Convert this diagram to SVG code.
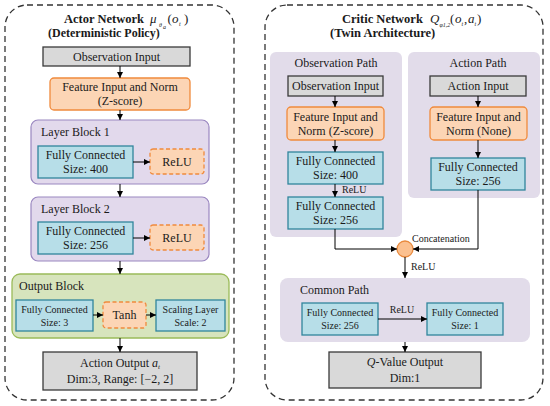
<svg xmlns="http://www.w3.org/2000/svg" width="550" height="406" viewBox="0 0 550 406">
<defs>
<marker id="ah" viewBox="0 0 10 10" refX="10" refY="5" markerWidth="6" markerHeight="6" markerUnits="userSpaceOnUse" orient="auto">
<path d="M0,0 L10,5 L0,10 z" fill="#000"/>
</marker>
</defs>
<style>
text{font-family:"Liberation Serif","Times New Roman",serif;font-size:12px;fill:#1a1a1a}
.c{text-anchor:middle}
.t{font-weight:bold;font-size:12.5px}
.t2{font-weight:bold;font-size:12px}
.s{font-size:10px}
.m{font-style:italic;font-size:13px}
.mn{font-size:13px}
.sub{font-style:italic;font-size:6px}
.cont{fill:#fff;stroke:#333;stroke-width:1.3;stroke-dasharray:6 4}
.gray{fill:#d9d9d9;stroke:#3a3a3a;stroke-width:1.3}
.org{fill:#fcd5b5;stroke:#f08a3c;stroke-width:1.3}
.orgd{fill:#fcd5b5;stroke:#f08a3c;stroke-width:1.3;stroke-dasharray:4 2.5}
.pur{fill:#e2d9ec;stroke:#9a87c0;stroke-width:1.2}
.pan{fill:#e2dcea;stroke:none}
.blu{fill:#b7dee8;stroke:#31859c;stroke-width:1.3}
.grn{fill:#d7e4bd;stroke:#9bbb59;stroke-width:1.3}
.ln{fill:none;stroke:#000;stroke-width:1;marker-end:url(#ah)}
</style>

<g id="actor-container">
<rect class="cont" x="5" y="5" width="229" height="395" rx="22"/>
<text class="t" x="64" y="23">Actor Network</text>
<text class="m" x="150" y="23">μ</text>
<text class="sub" x="159" y="27">θ</text>
<text class="sub" x="163" y="28.5" font-size="4.5">a</text>
<text class="mn" x="167.5" y="23">(</text>
<text class="m" x="172" y="23">o</text>
<text class="sub" x="179" y="26">t</text>
<text class="mn" x="184" y="23">)</text>
<text class="t2" x="48" y="37">(Deterministic Policy)</text>
</g>

<g id="actor-obs-input">
<rect class="gray" x="43" y="47" width="147" height="19"/>
<text class="c" x="116.5" y="60.5">Observation Input</text>
</g>
<g id="actor-feature">
<rect class="org" x="50" y="78" width="140" height="32" rx="4"/>
<text class="c" x="120" y="91">Feature Input and Norm</text>
<text class="c" x="120" y="105">(Z-score)</text>
</g>
<g id="layer-block-1">
<rect class="pur" x="31" y="120" width="178" height="64" rx="7"/>
<text x="41" y="136">Layer Block 1</text>
</g>
<g id="lb1-fc">
<rect class="blu" x="38" y="146" width="95" height="32"/>
<text class="c" x="85.5" y="159">Fully Connected</text>
<text class="c" x="85.5" y="173">Size: 400</text>
</g>
<g id="lb1-relu">
<rect class="orgd" x="150" y="149" width="54" height="25" rx="3"/>
<text class="c" x="177" y="166">ReLU</text>
</g>
<g id="layer-block-2">
<rect class="pur" x="31" y="197" width="178" height="64" rx="7"/>
<text x="41" y="213">Layer Block 2</text>
</g>
<g id="lb2-fc">
<rect class="blu" x="38" y="222" width="95" height="32"/>
<text class="c" x="85.5" y="235">Fully Connected</text>
<text class="c" x="85.5" y="249">Size: 256</text>
</g>
<g id="lb2-relu">
<rect class="orgd" x="150" y="225" width="54" height="25" rx="3"/>
<text class="c" x="177" y="242">ReLU</text>
</g>
<g id="output-block">
<rect class="grn" x="12" y="274" width="217" height="64" rx="8"/>
<text x="19" y="290">Output Block</text>
</g>
<g id="ob-fc">
<rect class="blu" x="16" y="300" width="77" height="31"/>
<text class="c s" x="54.5" y="313">Fully Connected</text>
<text class="c s" x="54.5" y="326">Size: 3</text>
</g>
<g id="ob-tanh">
<rect class="orgd" x="103" y="302" width="43" height="26" rx="3"/>
<text class="c" x="124.5" y="319">Tanh</text>
</g>
<g id="ob-scale">
<rect class="blu" x="156" y="300" width="69" height="31"/>
<text class="c s" x="190.5" y="313">Scaling Layer</text>
<text class="c s" x="190.5" y="326">Scale: 2</text>
</g>
<g id="action-output">
<rect class="gray" x="43" y="352" width="154" height="38"/>
<text class="c" x="120" y="367">Action Output <tspan font-style="italic">a</tspan><tspan font-style="italic" font-size="7" dy="2">t</tspan></text>
<text class="c" x="120" y="383">Dim:3, Range: [−2, 2]</text>
</g>

<g id="critic-container">
<rect class="cont" x="265" y="5" width="278" height="395" rx="22"/>
<text class="t" x="342" y="23">Critic Network</text>
<text class="m" x="430" y="23">Q</text>
<text class="sub" x="439.5" y="27" font-size="5">φ1,2</text>
<text class="mn" x="450" y="23">(</text>
<text class="m" x="455" y="23">o</text>
<text class="sub" x="461.5" y="26">t</text>
<text class="mn" x="464" y="23">,</text>
<text class="m" x="468" y="23">a</text>
<text class="sub" x="474.5" y="26">t</text>
<text class="mn" x="477" y="23">)</text>
<text class="t" x="330" y="37">(Twin Architecture)</text>
</g>
<g id="observation-path">
<rect class="pan" x="270" y="52" width="132" height="185" rx="6"/>
<text class="c" x="336" y="67">Observation Path</text>
</g>
<g id="action-path">
<rect class="pan" x="408" y="52" width="132" height="146" rx="6"/>
<text class="c" x="478" y="67">Action Path</text>
</g>
<g id="critic-obs-input">
<rect class="gray" x="288" y="76" width="95" height="20"/>
<text class="c" x="335.5" y="90">Observation Input</text>
</g>
<g id="critic-obs-feature">
<rect class="org" x="287" y="107" width="97" height="33" rx="4"/>
<text class="c" x="335.5" y="121">Feature Input and</text>
<text class="c" x="335.5" y="135">Norm (Z-score)</text>
</g>
<g id="critic-obs-fc400">
<rect class="blu" x="288" y="152" width="95" height="32"/>
<text class="c" x="335.5" y="165">Fully Connected</text>
<text class="c" x="335.5" y="179">Size: 400</text>
</g>
<g id="critic-obs-fc256">
<rect class="blu" x="288" y="197" width="95" height="32"/>
<text class="c" x="335.5" y="210">Fully Connected</text>
<text class="c" x="335.5" y="224">Size: 256</text>
</g>
<g id="critic-act-input">
<rect class="gray" x="430" y="76" width="96" height="20"/>
<text class="c" x="478" y="90">Action Input</text>
</g>
<g id="critic-act-feature">
<rect class="org" x="430" y="107" width="97" height="33" rx="4"/>
<text class="c" x="478.5" y="121">Feature Input and</text>
<text class="c" x="478.5" y="135">Norm (None)</text>
</g>
<g id="critic-act-fc256">
<rect class="blu" x="431" y="158" width="94" height="32"/>
<text class="c" x="478" y="171">Fully Connected</text>
<text class="c" x="478" y="185">Size: 256</text>
</g>
<g id="concatenation">
<circle cx="405" cy="249" r="8" fill="#fbc08f" stroke="#e98a3e" stroke-width="1.3"/>
<text class="s" x="412" y="242">Concatenation</text>
</g>
<g id="common-path">
<rect class="pan" x="280" y="278" width="250" height="64" rx="8"/>
<text x="300" y="294">Common Path</text>
</g>
<g id="common-fc256">
<rect class="blu" x="302" y="303" width="76" height="32"/>
<text class="c s" x="340" y="316">Fully Connected</text>
<text class="c s" x="340" y="329">Size: 256</text>
</g>
<g id="common-fc1">
<rect class="blu" x="427" y="303" width="76" height="32"/>
<text class="c s" x="465" y="316">Fully Connected</text>
<text class="c s" x="465" y="329">Size: 1</text>
</g>
<g id="q-output">
<rect class="gray" x="329" y="352" width="152" height="36"/>
<text class="c" x="405" y="366"><tspan font-style="italic">Q</tspan>-Value  Output</text>
<text class="c" x="405" y="382">Dim:1</text>
</g>

<g id="connectors">
<line class="ln" x1="120" y1="66" x2="120" y2="78"/>
<line class="ln" x1="120" y1="110" x2="120" y2="120"/>
<line class="ln" x1="133" y1="162" x2="150" y2="162"/>
<line class="ln" x1="120" y1="184" x2="120" y2="197"/>
<line class="ln" x1="133" y1="238" x2="150" y2="238"/>
<line class="ln" x1="120" y1="261" x2="120" y2="274"/>
<line class="ln" x1="93" y1="315" x2="103" y2="315"/>
<line class="ln" x1="146" y1="315" x2="156" y2="315"/>
<line class="ln" x1="120" y1="338" x2="120" y2="352"/>
<line class="ln" x1="335" y1="96" x2="335" y2="107"/>
<line class="ln" x1="335" y1="140" x2="335" y2="152"/>
<line class="ln" x1="335" y1="184" x2="335" y2="197"/>
<text class="s" x="342" y="193">ReLU</text>
<line class="ln" x1="478" y1="96" x2="478" y2="107"/>
<line class="ln" x1="478" y1="140" x2="478" y2="158"/>
<polyline class="ln" points="335,229 335,249 397,249"/>
<polyline class="ln" points="478,190 478,249 413,249"/>
<line class="ln" x1="405" y1="257" x2="405" y2="278"/>
<text class="s" x="411" y="270">ReLU</text>
<line class="ln" x1="378" y1="319" x2="427" y2="319"/>
<text class="s c" x="402" y="313">ReLU</text>
<line class="ln" x1="405" y1="342" x2="405" y2="352"/>
</g>
</svg>
